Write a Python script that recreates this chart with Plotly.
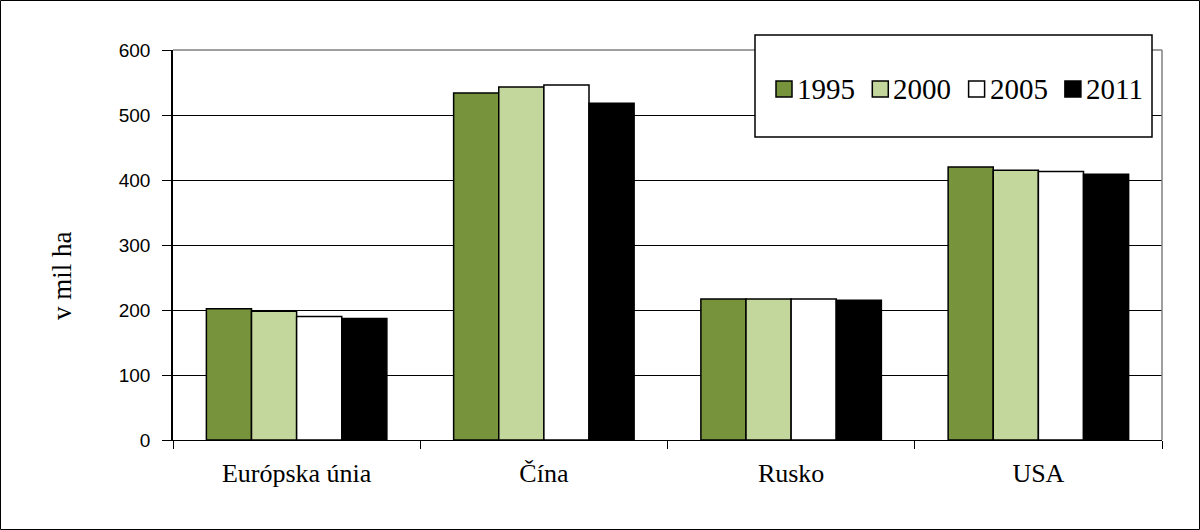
import plotly.graph_objects as go

categories = ["Európska únia", "Čína", "Rusko", "USA"]
years = ["1995", "2000", "2005", "2011"]
values_1995 = [202, 534, 217, 420]
values_2000 = [198, 543, 217, 415]
values_2005 = [190, 546, 217, 413]
values_2011 = [187, 518, 215, 409]
series_values = [values_1995, values_2000, values_2005, values_2011]
colors = ["#77933C", "#C3D69B", "#FFFFFF", "#000000"]
y_ticks = [0, 100, 200, 300, 400, 500, 600]
y_title = "v mil ha"

W, H = 1200, 530
ml, mr, mt, mb = 173, 38, 50, 90
pw, ph = W - ml - mr, H - mt - mb


def px_x(p):
    return (p - ml) / pw


def px_y(p):
    return (H - mb - p) / ph


fig = go.Figure()
for name, vals, col in zip(years, series_values, colors):
    fig.add_trace(go.Bar(
        name=name, x=categories, y=vals, showlegend=False,
        marker=dict(color=col, line=dict(color="#000000", width=1.5)),
    ))

shapes = [
    # plot area border (grey top/right)
    dict(type="line", xref="paper", yref="paper", x0=0, x1=1, y0=1, y1=1,
         line=dict(color="#808080", width=1.5), layer="above"),
    dict(type="line", xref="paper", yref="paper", x0=1, x1=1, y0=0, y1=1,
         line=dict(color="#808080", width=1.5), layer="above"),
    # legend box
    dict(type="rect", xref="paper", yref="paper",
         x0=px_x(755), x1=px_x(1152), y0=px_y(137), y1=px_y(35),
         line=dict(color="#000000", width=1.5), fillcolor="white", layer="above"),
    # outer chart border
    dict(type="rect", xref="paper", yref="paper",
         x0=px_x(0.5), x1=px_x(W - 0.5), y0=px_y(H - 0.5), y1=px_y(0.5),
         line=dict(color="#000000", width=1), fillcolor="rgba(0,0,0,0)", layer="above"),
]

annotations = [
    dict(xref="paper", yref="paper", x=px_x(62), y=px_y(276), textangle=-90,
         xanchor="center", yanchor="middle", text=y_title, showarrow=False,
         font=dict(family="Liberation Serif", size=27, color="#000000")),
]

# legend drawn inside the box
leg_x0, leg_step, leg_sym = 776, 96.3, 16
leg_ytop = 81
for i, (name, col) in enumerate(zip(years, colors)):
    sx = leg_x0 + i * leg_step
    shapes.append(dict(
        type="rect", xref="paper", yref="paper",
        x0=px_x(sx), x1=px_x(sx + leg_sym), y0=px_y(leg_ytop + leg_sym), y1=px_y(leg_ytop),
        line=dict(color="#000000", width=1.5), fillcolor=col, layer="above"))
    annotations.append(dict(
        xref="paper", yref="paper", x=px_x(sx + leg_sym + 3), y=px_y(leg_ytop + leg_sym / 2),
        xanchor="left", yanchor="middle", text=name, showarrow=False,
        font=dict(family="Liberation Serif", size=29, color="#000000")))

fig.update_layout(
    width=W, height=H,
    margin=dict(l=ml, r=mr, t=mt, b=mb),
    paper_bgcolor="white", plot_bgcolor="white",
    barmode="group", bargap=0.27, bargroupgap=0,
    showlegend=False,
    xaxis=dict(
        showgrid=False, showline=True, linecolor="#000000", linewidth=1,
        ticks="outside", tickson="boundaries", ticklen=8, tickcolor="#000000",
        ticklabelstandoff=10,
        tickfont=dict(family="Liberation Serif", size=26, color="#000000"),
    ),
    yaxis=dict(
        range=[0, 600], tickvals=y_ticks, showgrid=True, gridcolor="#000000", gridwidth=1,
        showline=True, linecolor="#000000", linewidth=1.5,
        ticks="outside", ticklen=9, tickcolor="#000000", zeroline=False,
        ticklabelstandoff=8,
        tickfont=dict(family="Liberation Sans", size=19, color="#000000"),
    ),
    shapes=shapes,
    annotations=annotations,
)

fig.write_html("out.html", config={"displayModeBar": False},
               post_script="document.body.style.margin='0px';")
